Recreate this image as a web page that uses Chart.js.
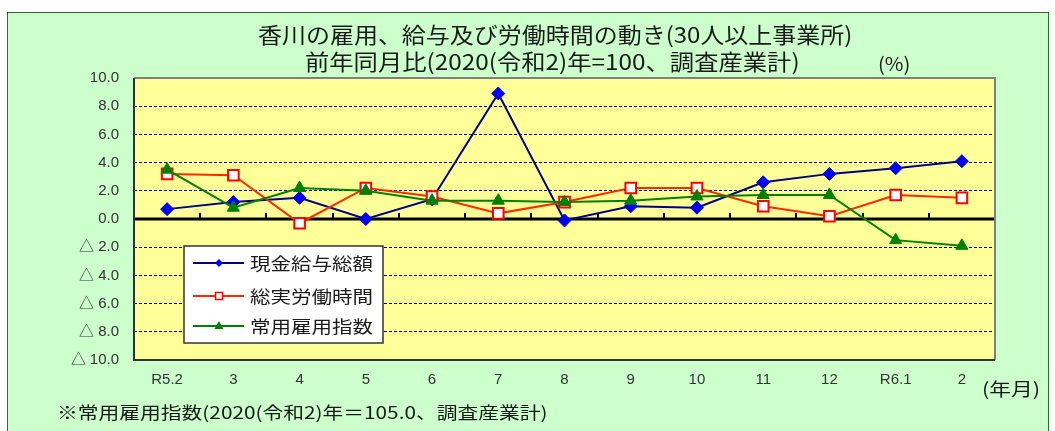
<!DOCTYPE html>
<html><head><meta charset="utf-8">
<script src="https://cdn.jsdelivr.net/npm/chart.js@4/dist/chart.umd.min.js"></script>
<style>
@font-face{font-family:"TriCJK";src:local("Noto Sans CJK JP Regular"),local("NotoSansCJKjp-Regular"),local("Noto Sans CJK JP");unicode-range:U+25B3;}
html,body{margin:0;padding:0;background:#fff;}
#wrap{position:relative;width:1055px;height:431px;overflow:hidden;}
#frame{position:absolute;left:7px;top:12px;width:1042px;height:430px;border:1px solid #2f6a2f;background:#CCFFCC;box-sizing:border-box;}
canvas{position:absolute;left:0;top:0;}
.t{position:absolute;white-space:nowrap;font-family:"Noto Sans CJK JP","Noto Sans",sans-serif;color:#1a1a1a;transform-origin:0 50%;}
</style></head><body>
<div id="wrap">
<div id="frame"></div>
<canvas id="c" width="1055" height="431"></canvas>
<div class="t" id="t1" data-x="258" data-y="33" data-w="594" style="font-size:22px;">香川の雇用、給与及び労働時間の動き(30人以上事業所)</div>
<div class="t" id="t2" data-x="305" data-y="60" data-w="495" style="font-size:22px;">前年同月比(2020(令和2)年=100、調査産業計)</div>
<div class="t" id="t3" data-x="878" data-y="62" data-w="32" style="font-size:19px;">(%)</div>
<div class="t" id="t4" data-x="982" data-y="388" data-w="58" style="font-size:18px;">(年月)</div>
<div class="t" id="t5" data-x="57" data-y="411" data-w="491" style="font-size:17px;">※常用雇用指数(2020(令和2)年＝105.0、調査産業計)</div>
</div>
<script>
const categories = ['R5.2','3','4','5','6','7','8','9','10','11','12','R6.1','2'];
const wageTotal   = [0.7, 1.2, 1.5, 0.0, 1.4, 8.9, -0.1, 0.9, 0.8, 2.6, 3.2, 3.6, 4.1];
const hoursTotal  = [3.2, 3.1, -0.3, 2.2, 1.6, 0.4, 1.2, 2.2, 2.2, 0.9, 0.2, 1.7, 1.5];
const employIndex = [3.5, 0.8, 2.2, 2.0, 1.3, 1.3, 1.2, 1.3, 1.6, 1.7, 1.7, -1.5, -1.9];
const seriesNames = ['現金給与総額','総実労働時間','常用雇用指数'];
const yMin = -10, yMax = 10, yStep = 2;

function fitTexts(){
  document.querySelectorAll('.t').forEach(el=>{
    el.style.transform='none';
    const w = el.offsetWidth, h = el.offsetHeight;
    const tw = +el.dataset.w;
    el.style.left = el.dataset.x + 'px';
    el.style.top = (+el.dataset.y - h/2) + 'px';
    el.style.transform = 'scaleX(' + (tw / w) + ')';
  });
}

const plotDeco = {
  id:'plotDeco',
  beforeDraw(chart){
    const a = chart.chartArea, ctx = chart.ctx;
    ctx.save();
    ctx.fillStyle = '#FFFF99';
    ctx.fillRect(a.left, a.top, a.right-a.left, a.bottom-a.top);
    ctx.restore();
  },
  beforeDatasetsDraw(chart){
    const a = chart.chartArea, ctx = chart.ctx;
    const y0 = chart.scales.y.getPixelForValue(0);
    ctx.save();
    ctx.strokeStyle = '#000';
    ctx.lineWidth = 3;
    ctx.beginPath(); ctx.moveTo(a.left, y0); ctx.lineTo(a.right, y0); ctx.stroke();
    ctx.lineWidth = 2;
    const n = categories.length, cw = (a.right-a.left)/n;
    for (let i=1;i<=n;i++){
      const x = Math.round(a.left + i*cw);
      ctx.beginPath(); ctx.moveTo(x, y0); ctx.lineTo(x, y0-6); ctx.stroke();
    }
    ctx.lineWidth = 2;
    ctx.strokeStyle = '#808080';
    ctx.beginPath(); ctx.moveTo(a.left, a.top); ctx.lineTo(a.right, a.top); ctx.lineTo(a.right, a.bottom); ctx.stroke();
    ctx.strokeStyle = '#333';
    ctx.beginPath(); ctx.moveTo(a.left, a.top); ctx.lineTo(a.left, a.bottom); ctx.lineTo(a.right, a.bottom); ctx.stroke();
    ctx.restore();
  },
  afterDatasetsDraw(chart){
    const ctx = chart.ctx;
    const bx=184, by=246, bw=199, bh=97;
    ctx.save();
    ctx.fillStyle='#fff'; ctx.fillRect(bx,by,bw,bh);
    ctx.strokeStyle='#333'; ctx.lineWidth=1.5; ctx.strokeRect(bx,by,bw,bh);
    const rows=[263,296,326];
    chart.data.datasets.forEach((ds,i)=>{
      const y=rows[i];
      ctx.strokeStyle=ds.borderColor; ctx.lineWidth=2;
      ctx.beginPath(); ctx.moveTo(193,y); ctx.lineTo(244,y); ctx.stroke();
      const mx=219;
      ctx.fillStyle=ds.pointBackgroundColor; ctx.strokeStyle=ds.pointBorderColor; ctx.lineWidth=1.5;
      ctx.beginPath();
      if(i===0){ctx.moveTo(mx,y-4);ctx.lineTo(mx+4,y);ctx.lineTo(mx,y+4);ctx.lineTo(mx-4,y);ctx.closePath();ctx.fill();}
      else if(i===1){ctx.rect(mx-3.5,y-3.5,7,7);ctx.fill();ctx.stroke();}
      else {ctx.moveTo(mx,y-5);ctx.lineTo(mx+4.5,y+3);ctx.lineTo(mx-4.5,y+3);ctx.closePath();ctx.fill();}
      ctx.font='17px "Noto Sans CJK JP"';
      ctx.fillStyle='#1a1a1a'; ctx.textBaseline='middle';
      const tw=ctx.measureText(ds.label).width;
      ctx.save(); ctx.translate(250,y+1); ctx.scale(123/tw,1); ctx.fillText(ds.label,0,0); ctx.restore();
    });
    ctx.restore();
  }
};

const chart = new Chart(document.getElementById('c'), {
  type:'line',
  data:{
    labels: categories,
    datasets:[
      {label:seriesNames[0], data:wageTotal, borderColor:'#000080', borderWidth:2,
       pointStyle:'rectRot', pointRadius:6.5, pointBackgroundColor:'#0000FF', pointBorderColor:'#0000CC', pointBorderWidth:1, order:2},
      {label:seriesNames[1], data:hoursTotal, borderColor:'#FF2A00', borderWidth:2,
       pointStyle:'rect', pointRadius:7.5, pointBackgroundColor:'#FFFFFF', pointBorderColor:'#FF0000', pointBorderWidth:2, order:1},
      {label:seriesNames[2], data:employIndex, borderColor:'#008000', borderWidth:2,
       pointStyle:'triangle', pointRadius:7, pointBackgroundColor:'#008000', pointBorderColor:'#008000', pointBorderWidth:1, order:0}
    ]
  },
  options:{
    responsive:false, animation:false, devicePixelRatio:1,
    layout:{padding:{left:0, right:60, top:78, bottom:41}},
    plugins:{legend:{display:false}, tooltip:{enabled:false}, title:{display:false}},
    elements:{line:{tension:0}},
    scales:{
      x:{
        offset:true,
        grid:{display:false, drawTicks:false, offset:true},
        border:{display:false},
        ticks:{color:'#333', padding:11, maxRotation:0, autoSkip:false,
          font:{family:'"Liberation Sans Narrow","Liberation Sans",sans-serif', size:15}},
        afterFit(s){ s.height = 30; }
      },
      y:{
        min:yMin, max:yMax,
        grid:{color:(c)=> c.tick && c.tick.value===0 ? 'rgba(0,0,0,0)' : '#000', lineWidth:1, drawTicks:false},
        border:{display:false, dash:[3,2]},
        ticks:{stepSize:yStep, padding:15, color:'#333',
          font:{family:'"TriCJK","Liberation Sans","Noto Sans CJK JP",sans-serif', size:15},
          callback:(v)=> v<0 ? '△ '+Math.abs(v).toFixed(1) : v.toFixed(1)},
        afterFit(s){ s.width = 134; }
      }
    }
  },
  plugins:[plotDeco]
});
fitTexts();
Promise.all([
  document.fonts.load('15px "TriCJK"', '△').catch(()=>null),
  document.fonts.ready
]).then(()=>{fitTexts(); chart.update();});
</script>
</body></html>
